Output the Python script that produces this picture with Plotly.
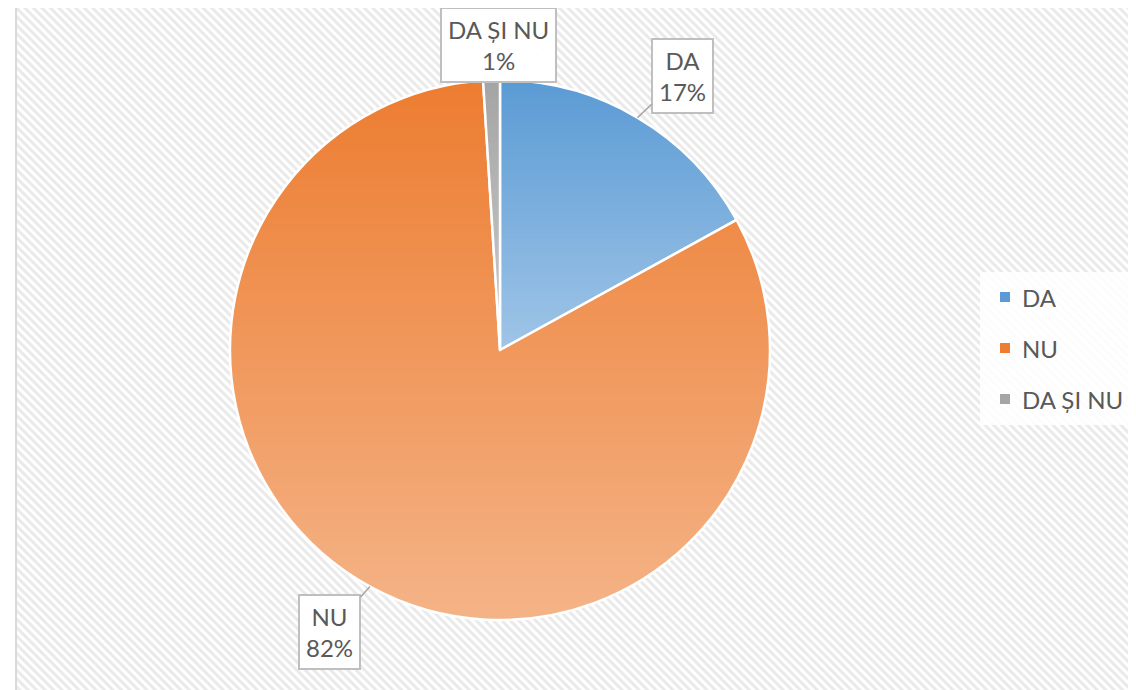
import math
import plotly.graph_objects as go

# ---- data ----
categories = ["DA", "NU", "DA ȘI NU"]
values = [17, 82, 1]
percent_labels = ["17%", "82%", "1%"]
colors_top = ["#5B9BD5", "#ED7D31", "#A5A5A5"]

OFF = 8                      # page body margin
W, H = 1136 - OFF, 690 - OFF  # figure size
CX, CY, R = 500 - OFF, 350 - OFF, 270
TEXT = "#595959"
FONT = "Lato, Open Sans, sans-serif"
FS = 24

def X(v):
    return v - OFF

def Y(v):
    return v - OFF

fig = go.Figure()

# hatched chart area background
fig.add_trace(go.Scatter(
    x=[X(15), W + 2, W + 2, X(15), X(15)], y=[Y(5), Y(5), H + 2, H + 2, Y(5)],
    mode="lines", fill="toself", line=dict(width=0),
    fillcolor="white",
    fillpattern=dict(shape="\\", fgcolor="#d4d4d4", bgcolor="white", size=6, solidity=0.5),
    hoverinfo="skip", showlegend=False,
))

# pie
fig.add_trace(go.Pie(
    labels=categories, values=values, sort=False, direction="clockwise", rotation=0,
    marker=dict(colors=colors_top, line=dict(color="white", width=2.5)),
    textinfo="none", showlegend=False,
    domain=dict(x=[(CX - R) / W, (CX + R) / W], y=[(H - CY - R) / H, (H - CY + R) / H]),
))

shapes = []
# frame
shapes.append(dict(type="rect", xref="x", yref="y", x0=X(16), y0=Y(6), x1=W + 5, y1=H + 5,
                   line=dict(color="#d9d9d9", width=2), fillcolor="rgba(0,0,0,0)", layer="above"))

# gradient overlay per slice (lighter toward bottom of each slice)
def sector_poly(a0, a1, n=120):
    pts = [(CX, CY)]
    steps = max(2, int(n * (a1 - a0) / 360) + 2)
    for i in range(steps + 1):
        a = math.radians(a0 + (a1 - a0) * i / steps)
        pts.append((CX + R * math.sin(a), CY - R * math.cos(a)))
    return pts

def clip(poly, yv, keep_below):
    out = []
    n = len(poly)
    for i in range(n):
        p, q = poly[i], poly[(i + 1) % n]
        pin = (p[1] >= yv) if keep_below else (p[1] <= yv)
        qin = (q[1] >= yv) if keep_below else (q[1] <= yv)
        if pin:
            out.append(p)
        if pin != qin:
            t = (yv - p[1]) / (q[1] - p[1])
            out.append((p[0] + t * (q[0] - p[0]), yv))
    return out

total = sum(values)
start = 0.0
for v in values:
    a0 = start
    a1 = start + 360.0 * v / total
    start = a1
    poly = sector_poly(a0, a1)
    ymin = min(p[1] for p in poly)
    ymax = max(p[1] for p in poly)
    step = 3
    y = math.floor(ymin)
    while y < ymax:
        band = clip(clip(poly, y, True), y + step, False)
        if len(band) >= 3:
            t = (y + step / 2 - ymin) / (ymax - ymin)
            alpha = max(0.0, min(0.42, 0.42 * t))
            if alpha > 0.01:
                path = "M " + " L ".join(f"{px:.2f},{py:.2f}" for px, py in band) + " Z"
                shapes.append(dict(type="path", xref="x", yref="y", path=path,
                                   fillcolor=f"rgba(255,255,255,{alpha:.3f})",
                                   line=dict(width=0), layer="above"))
        y += step

# data label callouts
label_offsets = [(45, -42), (-40, 45), (7, -35)]
annotations = []
start = 0.0
for cat, v, pl, (ax, ay) in zip(categories, values, percent_labels, label_offsets):
    mid = start + 180.0 * v / total
    start += 360.0 * v / total
    a = math.radians(mid)
    ex, ey = CX + R * math.sin(a), CY - R * math.cos(a)
    annotations.append(dict(
        x=ex, y=ey, xref="x", yref="y", ax=ax, ay=ay, axref="pixel", ayref="pixel",
        text=f"{cat}<br>{pl}", showarrow=True, arrowhead=0, arrowwidth=1.5, arrowcolor="#a6a6a6",
        font=dict(family=FONT, size=FS, color=TEXT),
        bgcolor="rgba(255,255,255,0.92)", bordercolor="#bfbfbf", borderwidth=2, borderpad=6,
    ))

# legend (manual, right side)
shapes.append(dict(type="rect", xref="x", yref="y", x0=X(980), y0=Y(272), x1=W + 2, y1=Y(425),
                   fillcolor="rgba(255,255,255,0.85)", line=dict(width=0), layer="above"))
leg_y0, leg_dy = 297, 51
for i, (cat, col) in enumerate(zip(categories, colors_top)):
    yc = Y(leg_y0 + i * leg_dy)
    shapes.append(dict(type="rect", xref="x", yref="y", x0=X(1000), y0=yc - 5, x1=X(1010), y1=yc + 5,
                       fillcolor=col, line=dict(width=0), layer="above"))
    annotations.append(dict(x=X(1020), y=yc, xref="x", yref="y", xanchor="left", yanchor="middle",
                            text=cat, showarrow=False,
                            font=dict(family=FONT, size=FS, color=TEXT)))

fig.update_layout(
    width=W, height=H,
    margin=dict(l=0, r=0, t=0, b=0),
    paper_bgcolor="white", plot_bgcolor="white",
    xaxis=dict(visible=False, range=[0, W], domain=[0, 1], fixedrange=True),
    yaxis=dict(visible=False, range=[H, 0], domain=[0, 1], fixedrange=True),
    shapes=shapes, annotations=annotations,
    showlegend=False,
)

fig.write_html("out.html")
